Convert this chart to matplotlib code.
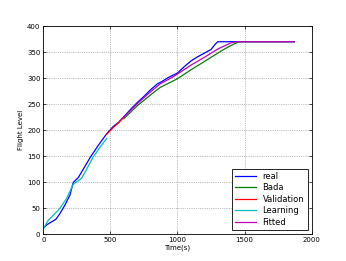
import matplotlib
matplotlib.use("Agg")
import matplotlib.pyplot as plt

# real trajectory
real_t = [0, 30, 62, 94, 124, 161, 198, 224, 240, 261, 286, 348, 410, 472,
          520, 560, 600, 650, 700, 750, 800, 850, 880, 930, 1000, 1050, 1100,
          1150, 1200, 1250, 1280, 1300, 1320, 1500, 1870]
real_fl = [12, 19, 24, 29, 40, 56, 75, 100, 104, 109, 120, 147, 171, 193,
           207, 215, 226, 240, 253, 265, 278, 289, 293, 301, 310, 322, 333,
           341, 348, 355, 365, 370, 370, 370, 370]

# BADA model
bada_t = [600, 700, 800, 870, 1000, 1100, 1200, 1250, 1300, 1350, 1400, 1450,
          1470, 1870]
bada_fl = [222, 247, 268, 282, 299, 316, 332, 340, 348, 356, 363, 369,
           370, 370]

# validation segment
val_t = [472, 520, 560, 596]
val_fl = [192, 205, 214, 224]

# learning segment
learn_t = [0, 37, 87, 124, 174, 223, 286, 323, 373, 422, 472]
learn_fl = [10, 27, 40, 50, 69, 96, 108, 125, 149, 167, 184]

# fitted curve
fit_t = [596, 700, 800, 870, 950, 1000, 1100, 1200, 1250, 1300, 1400, 1450, 1870]
fit_fl = [224, 251, 274, 289, 300, 308, 325, 340, 348, 356, 368, 370, 370]

fs = 5

fig = plt.figure(figsize=(3.46, 2.61), dpi=100)
ax = fig.add_axes([0.125, 0.102, 0.776, 0.798])

lw = 0.9
ax.plot(real_t, real_fl, color='b', lw=lw, label='real')
ax.plot(bada_t, bada_fl, color='g', lw=lw, label='Bada')
ax.plot(val_t, val_fl, color='r', lw=lw, label='Validation')
ax.plot(learn_t, learn_fl, color='c', lw=lw, label='Learning')
ax.plot(fit_t, fit_fl, color='m', lw=lw, label='Fitted')

ax.set_xlim(0, 2000)
ax.set_ylim(0, 400)
ax.set_xticks(range(0, 2001, 500))
ax.set_yticks(range(0, 401, 50))
ax.tick_params(direction='in', length=2, width=0.5, labelsize=fs, pad=2,
               top=True, right=True)
ax.grid(True, linestyle=':', color='gray', lw=0.5)
for s in ax.spines.values():
    s.set_linewidth(0.6)

ax.set_xlabel('Time(s)', fontsize=fs, labelpad=1)
ax.set_ylabel('Flight Level', fontsize=fs, labelpad=2)

leg = ax.legend(loc='lower right', fontsize=fs + 1, fancybox=False,
                framealpha=1, edgecolor='black', handlelength=2.5,
                borderaxespad=0.5, labelspacing=0.3)
leg.get_frame().set_linewidth(0.6)

fig.savefig('out.png', dpi=100)
